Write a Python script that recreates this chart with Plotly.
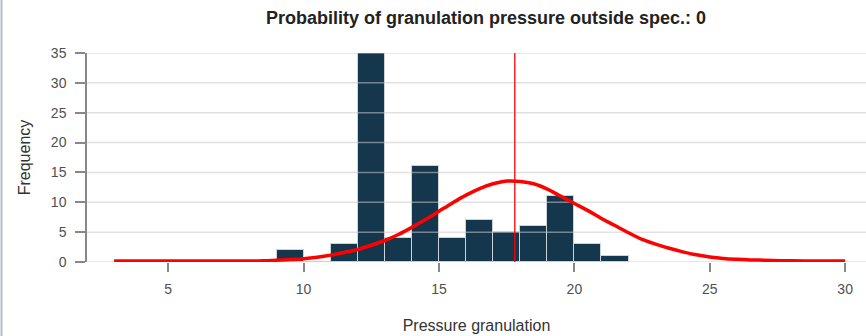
import plotly.graph_objects as go

# ---- data ----
bin_left = [9, 10, 11, 12, 13, 14, 15, 16, 17, 18, 19, 20, 21]
bin_count = [2, 0, 3, 35, 4, 16, 4, 7, 5, 6, 11, 3, 1]
bin_width = 1.0

curve_x = [3, 4, 5, 6, 7, 8, 8.5, 9, 9.5, 10, 10.5, 11, 11.5, 12, 12.5, 13, 13.5,
           14, 14.5, 15, 15.5, 16, 16.5, 17, 17.5, 18, 18.5, 19, 19.5, 20, 20.5,
           21, 21.5, 22, 22.5, 23, 23.5, 24, 24.5, 25, 25.5, 26, 26.5, 27, 28,
           29, 30]
curve_y = [0.15, 0.15, 0.15, 0.15, 0.15, 0.15, 0.2, 0.3, 0.4, 0.55, 0.8, 1.15,
           1.6, 2.1, 2.8, 3.6, 4.6, 5.8, 7.1, 8.5, 9.9, 11.2, 12.3, 13.1, 13.55,
           13.5, 13.1, 12.2, 11.0, 9.8, 8.6, 7.3, 6.1, 4.9, 3.8, 3.0, 2.3, 1.7,
           1.2, 0.85, 0.6, 0.45, 0.35, 0.3, 0.2, 0.15, 0.15]

mean_value = 17.8
x_ticks = [5, 10, 15, 20, 25, 30]
y_ticks = [0, 5, 10, 15, 20, 25, 30, 35]
x_range = [2.0, 30.77]
y_range = [0, 35]

title_text = "Probability of granulation pressure outside spec.: 0"
x_title = "Pressure granulation"
y_title = "Frequency"

FONT = "Liberation Sans, Arial, sans-serif"
BAR = "#15374d"
GRID = "rgba(200,200,200,0.55)"

fig = go.Figure()

fig.add_trace(go.Bar(
    x=[b + bin_width / 2 for b in bin_left],
    y=bin_count,
    width=[bin_width] * len(bin_left),
    marker=dict(color=BAR, line=dict(color="#cfd3d6", width=1)),
    hoverinfo="x+y",
))

# grid lines drawn above bars but below the curve
gx, gy = [], []
for t in y_ticks:
    gx += [x_range[0], x_range[1], None]
    gy += [t, t, None]
fig.add_trace(go.Scatter(x=gx, y=gy, mode="lines",
                         line=dict(color=GRID, width=1.5),
                         hoverinfo="skip", showlegend=False))

fig.add_trace(go.Scatter(x=curve_x, y=curve_y, mode="lines",
                         line=dict(color="#ff0000", width=3.5, shape="spline",
                                   smoothing=1.0),
                         hoverinfo="skip"))

fig.add_trace(go.Scatter(x=[mean_value, mean_value], y=[y_range[0], y_range[1]],
                         mode="lines", line=dict(color="#ff0000", width=1.3),
                         hoverinfo="skip"))

# left frame border of the widget
fig.add_shape(type="line", xref="paper", yref="paper",
              x0=-85.5 / 779, x1=-85.5 / 779, y0=-74 / 209, y1=1 + 53 / 209,
              line=dict(color="#b4bcc4", width=2))

fig.update_layout(
    width=866, height=336,
    margin=dict(l=87, r=0, t=53, b=74),
    paper_bgcolor="white", plot_bgcolor="white",
    showlegend=False,
    bargap=0,
    font=dict(family=FONT, size=14, color="#505050"),
    title=dict(text="<b>" + title_text + "</b>", x=486 / 866, xref="container",
               xanchor="center", y=1 - 18 / 336, yref="container", yanchor="middle",
               font=dict(family=FONT, size=18, color="#222222")),
    xaxis=dict(range=x_range, tickvals=x_ticks, showgrid=False, zeroline=False,
               showline=False, ticks="outside", ticklen=9, tickwidth=1.5,
               tickcolor="#888888", ticklabelstandoff=5,
               tickfont=dict(size=14, color="#505050"),
               title=dict(text=x_title, standoff=24,
                          font=dict(size=16, color="#333333"))),
    yaxis=dict(range=y_range, tickvals=y_ticks, showgrid=False, zeroline=False,
               showline=True, linecolor="#888888", linewidth=1.5,
               ticks="outside", ticklen=10, tickwidth=1.5, tickcolor="#888888",
               ticklabelstandoff=6,
               tickfont=dict(size=14, color="#505050"),
               title=dict(text=y_title, standoff=16,
                          font=dict(size=16, color="#333333"))),
)

fig.write_html("out.html")
